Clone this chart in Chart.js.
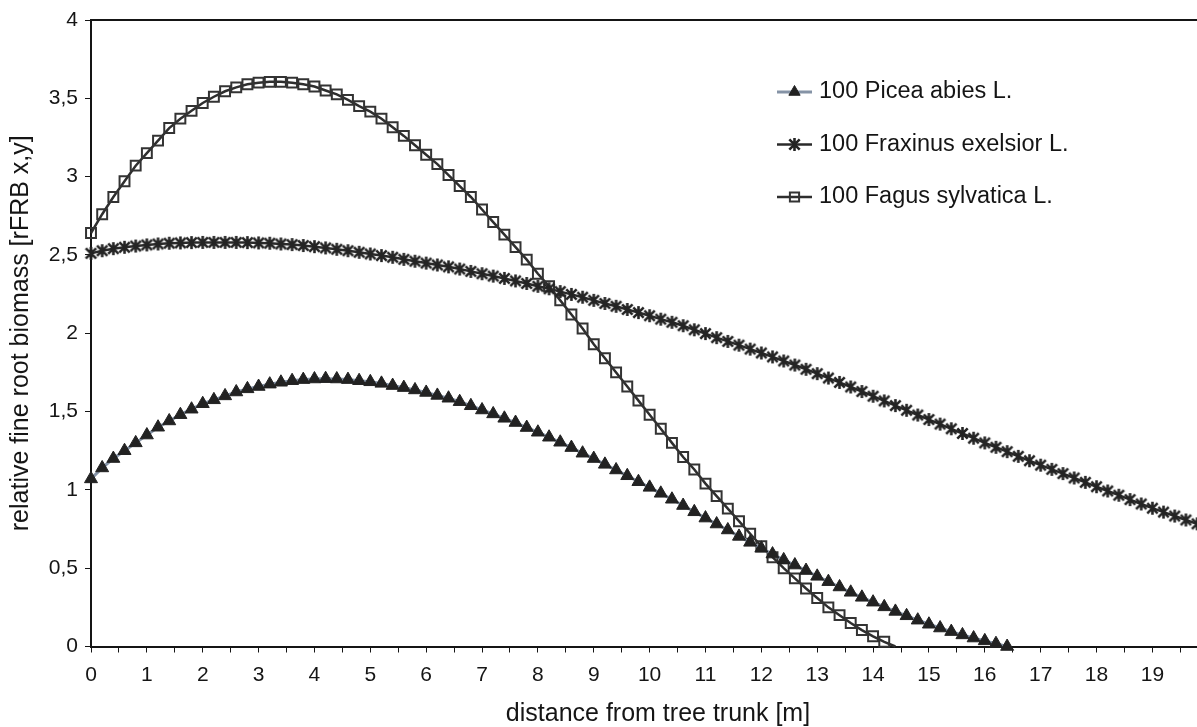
<!DOCTYPE html>
<html>
<head>
<meta charset="utf-8">
<title>Relative fine root biomass</title>
<script src="https://cdn.jsdelivr.net/npm/chart.js@4.4.0/dist/chart.umd.min.js"></script>
<style>
  html, body { margin: 0; padding: 0; background: #fff; overflow: hidden; }
  canvas { display: block; }
</style>
</head>
<body>
<canvas id="chartCanvas" width="1225" height="727"></canvas>
<script>
    // distance from trunk [m], one sample every 0.2 m
    const distance = [
        0, 0.2, 0.4, 0.6, 0.8, 1, 1.2, 1.4, 1.6, 1.8,
        2, 2.2, 2.4, 2.6, 2.8, 3, 3.2, 3.4, 3.6, 3.8,
        4, 4.2, 4.4, 4.6, 4.8, 5, 5.2, 5.4, 5.6, 5.8,
        6, 6.2, 6.4, 6.6, 6.8, 7, 7.2, 7.4, 7.6, 7.8,
        8, 8.2, 8.4, 8.6, 8.8, 9, 9.2, 9.4, 9.6, 9.8,
        10, 10.2, 10.4, 10.6, 10.8, 11, 11.2, 11.4, 11.6, 11.8,
        12, 12.2, 12.4, 12.6, 12.8, 13, 13.2, 13.4, 13.6, 13.8,
        14, 14.2, 14.4, 14.6, 14.8, 15, 15.2, 15.4, 15.6, 15.8,
        16, 16.2, 16.4, 16.6, 16.8, 17, 17.2, 17.4, 17.6, 17.8,
        18, 18.2, 18.4, 18.6, 18.8, 19, 19.2, 19.4, 19.6, 19.8
    ];

    // rFRB values per species (series stop where biomass reaches 0)
    const piceaValues = [
        1.07, 1.14, 1.20, 1.25, 1.30, 1.35, 1.40, 1.44, 1.48, 1.515,
        1.55, 1.575, 1.60, 1.625, 1.645, 1.66, 1.675, 1.687, 1.697, 1.704,
        1.708, 1.71, 1.708, 1.704, 1.697, 1.69, 1.68, 1.666, 1.653, 1.638,
        1.622, 1.603, 1.585, 1.563, 1.537, 1.51, 1.485, 1.457, 1.43, 1.398,
        1.368, 1.336, 1.304, 1.27, 1.234, 1.20, 1.163, 1.127, 1.09, 1.052,
        1.016, 0.978, 0.94, 0.90, 0.86, 0.82, 0.782, 0.744, 0.703, 0.665,
        0.627, 0.59, 0.553, 0.52, 0.485, 0.448, 0.414, 0.38, 0.346, 0.314,
        0.283, 0.253, 0.224, 0.196, 0.168, 0.142, 0.118, 0.095, 0.074, 0.054,
        0.036, 0.018, 0.0
    ];

    const fraxinusValues = [
        2.51, 2.527, 2.54, 2.549, 2.557, 2.564, 2.57, 2.575, 2.577, 2.579,
        2.58, 2.58, 2.58, 2.58, 2.579, 2.577, 2.575, 2.57, 2.566, 2.56,
        2.553, 2.545, 2.536, 2.527, 2.517, 2.506, 2.496, 2.485, 2.472, 2.46,
        2.448, 2.436, 2.424, 2.41, 2.395, 2.38, 2.365, 2.35, 2.334, 2.318,
        2.30, 2.284, 2.266, 2.248, 2.23, 2.21, 2.19, 2.172, 2.152, 2.132,
        2.112, 2.09, 2.07, 2.048, 2.022, 1.998, 1.972, 1.948, 1.924, 1.899,
        1.874, 1.849, 1.823, 1.797, 1.77, 1.742, 1.714, 1.686, 1.657, 1.628,
        1.598, 1.568, 1.538, 1.508, 1.478, 1.449, 1.42, 1.39, 1.36, 1.33,
        1.30, 1.272, 1.244, 1.214, 1.186, 1.158, 1.131, 1.104, 1.076, 1.048,
        1.02, 0.993, 0.966, 0.938, 0.91, 0.883, 0.858, 0.833, 0.808, 0.783
    ];

    const fagusValues = [
        2.64, 2.76, 2.87, 2.97, 3.07, 3.15, 3.23, 3.31, 3.37, 3.42,
        3.47, 3.51, 3.545, 3.57, 3.59, 3.60, 3.605, 3.605, 3.60, 3.59,
        3.575, 3.55, 3.525, 3.49, 3.45, 3.415, 3.37, 3.315, 3.26, 3.20,
        3.14, 3.08, 3.01, 2.94, 2.87, 2.79, 2.71, 2.63, 2.55, 2.47,
        2.38, 2.30, 2.21, 2.12, 2.03, 1.93, 1.84, 1.75, 1.66, 1.57,
        1.48, 1.39, 1.30, 1.21, 1.13, 1.04, 0.96, 0.88, 0.80, 0.72,
        0.64, 0.57, 0.50, 0.435, 0.37, 0.31, 0.25, 0.20, 0.15, 0.105,
        0.065, 0.03, 0.0
    ];

    const seriesLabels = ['100 Picea abies L.', '100 Fraxinus exelsior L.', '100 Fagus sylvatica L.'];

    const FONT = '"Liberation Sans", Arial, sans-serif';
    const INK = '#151515';

    // pair each value with its distance
    function toPoints(values) {
        return values.map((v, i) => ({ x: distance[i], y: v }));
    }

    // asterisk marker (x with a vertical bar)
    function makeAsterisk(size, width, color) {
        const c = document.createElement('canvas');
        c.width = c.height = size;
        const g = c.getContext('2d');
        const m = size / 2;
        const r = size / 2 - 1;
        const d = r * 0.8;
        g.strokeStyle = color;
        g.lineWidth = width;
        g.beginPath();
        g.moveTo(m, m - r); g.lineTo(m, m + r);
        g.moveTo(m - d, m - d); g.lineTo(m + d, m + d);
        g.moveTo(m - d, m + d); g.lineTo(m + d, m - d);
        g.stroke();
        return c;
    }
    const asterisk = makeAsterisk(15, 2.6, '#242424');

    // top edge of the plot frame
    const frameTop = {
        id: 'frameTop',
        beforeDatasetsDraw(chart) {
            const { ctx, chartArea } = chart;
            ctx.save();
            ctx.strokeStyle = INK;
            ctx.lineWidth = 2;
            ctx.beginPath();
            ctx.moveTo(chartArea.left, chartArea.top);
            ctx.lineTo(chartArea.right, chartArea.top);
            ctx.stroke();
            ctx.restore();
        }
    };

    // legend: short line with marker, then the label
    const seriesKey = {
        id: 'seriesKey',
        afterDatasetsDraw(chart, args, opts) {
            const { ctx } = chart;
            ctx.save();
            chart.data.datasets.forEach((ds, i) => {
                const y = opts.top + i * opts.spacing;
                const x0 = opts.left;
                const x1 = opts.left + opts.lineLength;
                ctx.strokeStyle = ds.borderColor;
                ctx.lineWidth = ds.borderWidth;
                ctx.beginPath();
                ctx.moveTo(x0, y);
                ctx.lineTo(x1, y);
                ctx.stroke();

                ctx.fillStyle = ds.pointBackgroundColor;
                ctx.strokeStyle = ds.pointBorderColor;
                ctx.lineWidth = ds.pointBorderWidth;
                Chart.helpers.drawPoint(ctx, {
                    pointStyle: ds.pointStyle,
                    radius: opts.pointRadius,
                    rotation: 0,
                    borderWidth: ds.pointBorderWidth
                }, (x0 + x1) / 2, y);

                ctx.fillStyle = INK;
                ctx.font = opts.fontSize + 'px ' + FONT;
                ctx.textBaseline = 'middle';
                ctx.textAlign = 'left';
                ctx.fillText(ds.label, x1 + 7, y);
            });
            ctx.restore();
        }
    };

    const chartCanvas = document.getElementById('chartCanvas');
    const myChart = new Chart(chartCanvas, {
        type: 'line',
        data: {
            datasets: [{
                label: seriesLabels[0],
                data: toPoints(piceaValues),
                borderColor: '#8593a6',
                borderWidth: 3,
                pointStyle: 'triangle',
                pointRadius: 7.5,
                pointBackgroundColor: '#222',
                pointBorderColor: '#222',
                pointBorderWidth: 1
            }, {
                label: seriesLabels[1],
                data: toPoints(fraxinusValues),
                borderColor: '#2a2a2a',
                borderWidth: 2.5,
                pointStyle: asterisk,
                pointRadius: 7,
                pointBackgroundColor: '#242424',
                pointBorderColor: '#242424',
                pointBorderWidth: 1
            }, {
                label: seriesLabels[2],
                data: toPoints(fagusValues),
                borderColor: '#2e2e2e',
                borderWidth: 2.5,
                pointStyle: 'rect',
                // the last sample sits on the axis without a marker
                pointRadius: ctx => ctx.dataIndex === fagusValues.length - 1 ? 0 : 7,
                pointBackgroundColor: 'rgba(255,255,255,0)',
                pointBorderColor: '#333',
                pointBorderWidth: 2
            }]
        },
        options: {
            responsive: false,
            animation: false,
            clip: false,
            layout: { autoPadding: false, padding: { top: 20, right: 0, left: 0, bottom: 0 } },
            elements: { line: { tension: 0 } },
            scales: {
                x: {
                    type: 'linear',
                    min: 0,
                    max: 20.3,
                    afterFit(scale) {
                        scale.height = 80.5;
                        scale.paddingLeft = 0;
                        scale.paddingRight = 0;
                    },
                    border: { color: INK, width: 2 },
                    grid: { drawOnChartArea: false, tickLength: 6, color: INK, lineWidth: 1 },
                    ticks: {
                        stepSize: 0.5,
                        includeBounds: false,
                        autoSkip: false,
                        maxRotation: 0,
                        padding: 10,
                        color: INK,
                        font: { family: FONT, size: 21 },
                        callback: v => (v % 1 === 0 && v < 20 ? v : '')
                    },
                    title: {
                        display: true,
                        text: 'distance from tree trunk [m]',
                        color: INK,
                        font: { family: FONT, size: 25, lineHeight: 1 },
                        padding: { top: 0, bottom: 0 }
                    }
                },
                y: {
                    min: 0,
                    max: 4,
                    afterFit(scale) { scale.width = 91; },
                    border: { color: INK, width: 2 },
                    grid: { drawOnChartArea: false, tickLength: 6, color: INK, lineWidth: 1 },
                    ticks: {
                        stepSize: 0.5,
                        padding: 7,
                        color: INK,
                        font: { family: FONT, size: 21 },
                        callback: v => String(v).replace('.', ',')
                    },
                    title: {
                        display: true,
                        text: 'relative fine root biomass [rFRB x,y]',
                        color: INK,
                        font: { family: FONT, size: 25, lineHeight: 1 },
                        padding: { top: 9, bottom: 0 }
                    }
                }
            },
            plugins: {
                legend: { display: false },
                tooltip: { enabled: false },
                seriesKey: { left: 777, top: 92, spacing: 52.5, lineLength: 35, pointRadius: 6.5, fontSize: 23.5 }
            }
        },
        plugins: [frameTop, seriesKey]
    });
</script>
</body>
</html>
